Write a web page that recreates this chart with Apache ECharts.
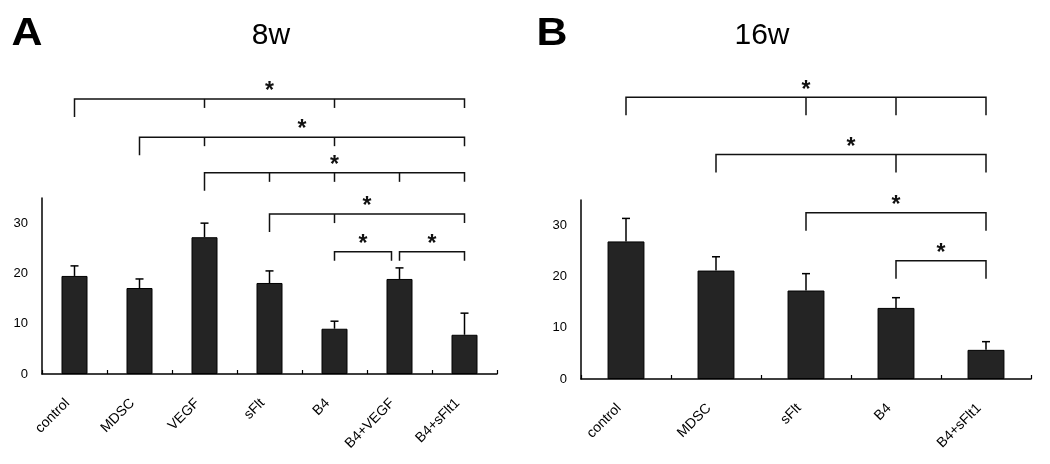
<!DOCTYPE html>
<html><head><meta charset="utf-8">
<script src="https://cdn.jsdelivr.net/npm/echarts@6/dist/echarts.min.js"></script>
<style>html,body{margin:0;padding:0;background:#fff}#c{width:1050px;height:464px}</style>
</head><body><div id="c"></div>
<script>
// ---- data ----
const catsA = ['control','MDSC','VEGF','sFlt','B4','B4+VEGF','B4+sFlt1'];
const meanA = [19.5, 17.1, 27.2, 18.1, 9.0, 18.9, 7.8];
const errTopA = [21.5, 18.9, 30.0, 20.5, 10.5, 21.1, 12.1];
const catsB = ['control','MDSC','sFlt','B4','B4+sFlt1'];
const meanB = [26.9, 21.2, 17.3, 13.9, 5.7];
const errTopB = [31.4, 23.9, 20.6, 15.9, 7.3];
const yMin = 0, yMax = 35, yStep = 10;
const panelLetters = ['A', 'B'];
const panelTitles = ['8w', '16w'];
// significance brackets: category indices and level (in axis units)
const bracketsA = [
  {from:0, to:6, mids:[2,4],   level:54.7, longLeft:true},
  {from:1, to:6, mids:[2,4],   level:47.1, longLeft:true},
  {from:2, to:6, mids:[3,4,5], level:40.0, longLeft:true},
  {from:3, to:6, mids:[4],     level:31.8, longLeft:true},
  {from:4, to:5, mids:[],      level:24.3, longLeft:false},
  {from:5, to:6, mids:[],      level:24.3, longLeft:false}
];
const bracketsB = [
  {from:0, to:4, mids:[2,3], level:55.1, longLeft:true},
  {from:1, to:4, mids:[3],   level:43.9, longLeft:true},
  {from:2, to:4, mids:[],    level:32.5, longLeft:true},
  {from:3, to:4, mids:[],    level:23.1, longLeft:true}
];

// ---- chart ----
const FONT = '"Liberation Sans", Arial, sans-serif';
const chart = echarts.init(document.getElementById('c'), null, {renderer:'canvas'});

function xAxisCfg(cats, gi){
  return {
    type:'category', gridIndex:gi, data:cats,
    axisLine:{lineStyle:{color:'#000', width:1.5}},
    axisTick:{show:true, inside:true, length:4, lineStyle:{color:'#000', width:1.2}},
    axisLabel:{rotate:45, margin:20, padding:[0,10,0,0], color:'#000', fontSize:14, fontFamily:FONT, interval:0},
    splitLine:{show:false}
  };
}
function yAxisCfg(gi){
  return {
    type:'value', gridIndex:gi, min:yMin, max:yMax, interval:yStep,
    axisLine:{show:true, lineStyle:{color:'#000', width:1.5}},
    axisTick:{show:false},
    axisLabel:{color:'#000', fontSize:13, fontFamily:FONT, margin:14, showMaxLabel:false},
    splitLine:{show:false}
  };
}
function barSeries(vals, gi, bw){
  return {type:'bar', xAxisIndex:gi, yAxisIndex:gi, data:vals, barWidth:bw,
    itemStyle:{color:'#242424', borderColor:'#000', borderWidth:1}, z:2, silent:true};
}
function errSeries(vals, tops, gi){
  return {type:'custom', xAxisIndex:gi, yAxisIndex:gi, z:3, silent:true, clip:false,
    data: vals.map((v,i)=>[i, v, tops[i]]),
    encode:{x:0, y:[1,2]},
    renderItem:function(params, api){
      const p0 = api.coord([api.value(0), api.value(1)]);
      const p1 = api.coord([api.value(0), api.value(2)]);
      const st = {stroke:'#000', lineWidth:1.5};
      return {type:'group', children:[
        {type:'line', shape:{x1:p0[0], y1:p0[1], x2:p1[0], y2:p1[1]}, style:st},
        {type:'line', shape:{x1:p1[0]-4, y1:p1[1], x2:p1[0]+4, y2:p1[1]}, style:st}
      ]};
    }
  };
}
function bracketSeries(brs, gi, dropLong, dropShort){
  return {type:'custom', xAxisIndex:gi, yAxisIndex:gi, z:4, silent:true, clip:false,
    data: brs.map(b=>[b.from, b.to, b.level]),
    encode:{x:[0,1], y:2},
    renderItem:function(params, api){
      const b = brs[params.dataIndex];
      const pa = api.coord([b.from, b.level]);
      const pb = api.coord([b.to, b.level]);
      let x1 = pa[0], x2 = pb[0]; const y = pa[1];
      if (brs.some(o=>o!==b && o.level===b.level && o.from===b.to)) x2 -= 8;
      const st = {stroke:'#111', lineWidth:1.5, fill:null};
      const ld = b.longLeft ? dropLong : dropShort;
      const ch = [
        {type:'polyline', shape:{points:[[x1,y+ld],[x1,y],[x2,y],[x2,y+dropShort]]}, style:st}
      ];
      b.mids.forEach(m=>{
        const xm = api.coord([m, b.level])[0];
        ch.push({type:'line', shape:{x1:xm, y1:y, x2:xm, y2:y+dropShort}, style:st});
      });
      ch.push({type:'text', style:{text:'*', x:(x1+x2)/2, y:y-7, textAlign:'center', textVerticalAlign:'middle',
        font:'bold 23px '+FONT, fill:'#111'}});
      return {type:'group', children:ch};
    }
  };
}

const option = {
  animation:false,
  backgroundColor:'#fff',
  grid:[
    {left:42, top:198, width:455, height:176},
    {left:581, top:200, width:450, height:179}
  ],
  xAxis:[xAxisCfg(catsA,0), xAxisCfg(catsB,1)],
  yAxis:[yAxisCfg(0), yAxisCfg(1)],
  graphic:[
    {type:'text', x:27, y:34.5, scaleX:1.1, style:{text:panelLetters[0], font:'bold 39px '+FONT, fill:'#000', textAlign:'center', textVerticalAlign:'middle'}},
    {type:'text', x:552, y:34.5, scaleX:1.1, style:{text:panelLetters[1], font:'bold 39px '+FONT, fill:'#000', textAlign:'center', textVerticalAlign:'middle'}},
    {type:'text', x:271, y:36, style:{text:panelTitles[0], font:'30px '+FONT, fill:'#000', textAlign:'center', textVerticalAlign:'middle'}},
    {type:'text', x:762, y:36, style:{text:panelTitles[1], font:'30px '+FONT, fill:'#000', textAlign:'center', textVerticalAlign:'middle'}}
  ],
  series:[
    barSeries(meanA, 0, '40%'),
    errSeries(meanA, errTopA, 0),
    bracketSeries(bracketsA, 0, 18, 9),
    barSeries(meanB, 1, '41%'),
    errSeries(meanB, errTopB, 1),
    bracketSeries(bracketsB, 1, 18, 18)
  ]
};
chart.setOption(option);
</script></body></html>
